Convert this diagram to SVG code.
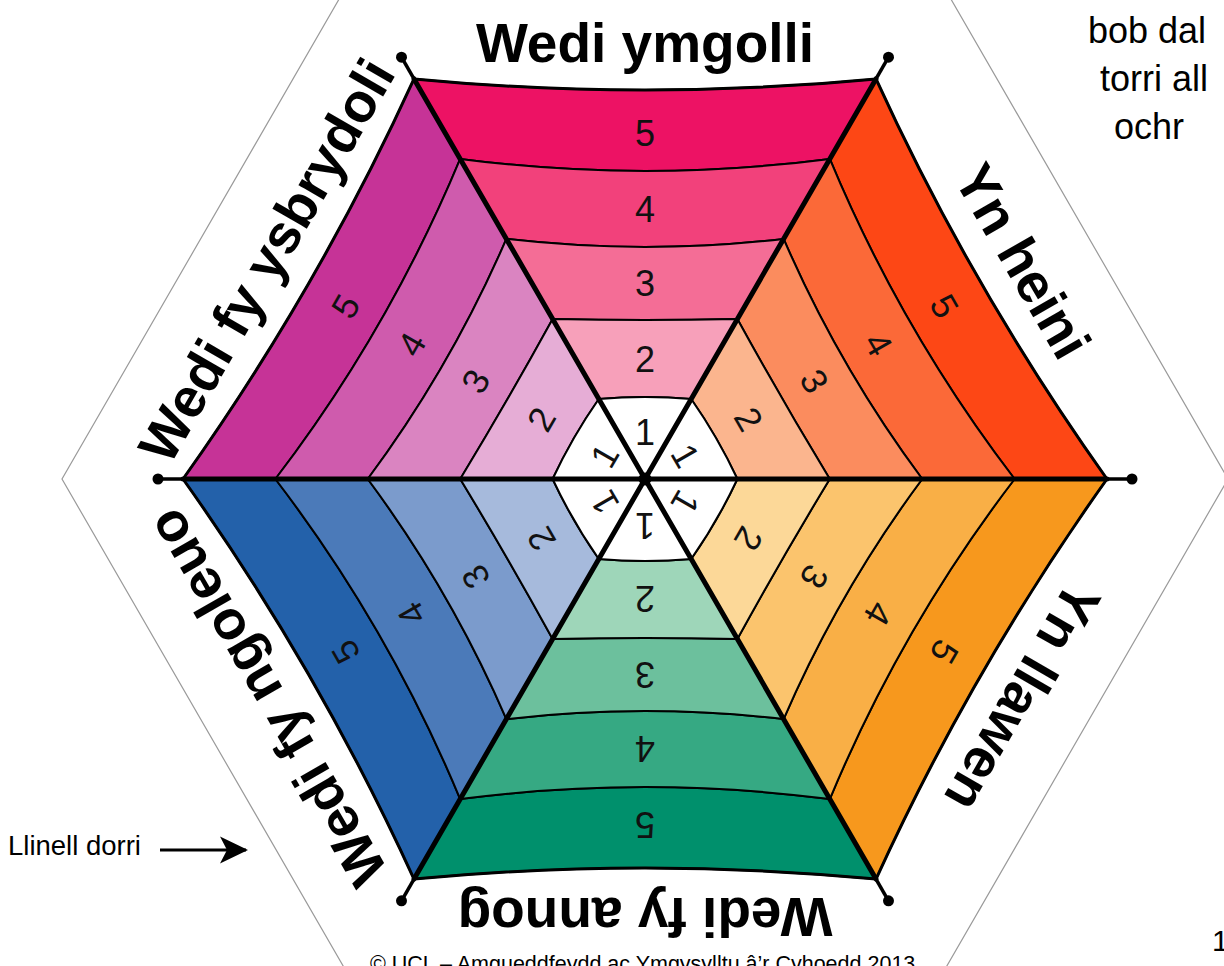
<svg xmlns="http://www.w3.org/2000/svg" xmlns:xlink="http://www.w3.org/1999/xlink" width="1224" height="966" viewBox="0 0 1224 966">
<style>
  .band { stroke: #000; stroke-width: 2; stroke-linejoin: round; }
  .edge { fill: none; stroke: #000; stroke-width: 3; }
  .num { font-family: "Liberation Sans", Arial, sans-serif; font-size: 36px; fill: #111; text-anchor: middle; }
  .lbl { font-family: "Liberation Sans", Arial, sans-serif; font-size: 55px; font-weight: bold; fill: #000; text-anchor: middle; }
  .note { font-family: "Liberation Sans", Arial, sans-serif; fill: #000; }
  .spoke { stroke: #000; stroke-width: 5; stroke-linecap: round; }
  .tip { stroke: #000; stroke-width: 3.5; }
  .dot { fill: #000; }
  .cut { fill: none; stroke: #9a9a9a; stroke-width: 1.2; }
</style>
<defs>
  <path id="b5" d="M-231,-400.1 Q0,-378 231,-400.1 L184.8,-320.1 Q0,-296 -184.8,-320.1 Z"/>
  <path id="b4" d="M-184.8,-320.1 Q0,-296 184.8,-320.1 L138.6,-240.1 Q0,-224 -138.6,-240.1 Z"/>
  <path id="b3" d="M-138.6,-240.1 Q0,-224 138.6,-240.1 L92.4,-160 Q0,-158 -92.4,-160 Z"/>
  <path id="b2" d="M-92.4,-160 Q0,-158 92.4,-160 L46.2,-80 Q0,-84 -46.2,-80 Z"/>
  <path id="b1" d="M-46.2,-80 Q0,-84 46.2,-80 L0,0 Z"/>
  <path id="rim" d="M-231,-400.1 Q0,-378 231,-400.1"/>
  <marker id="arr" viewBox="0 0 28 28" refX="26" refY="14" markerWidth="28" markerHeight="28" markerUnits="userSpaceOnUse" orient="auto">
    <path d="M0,0.5 L28,14 L0,27.5 L7,14 Z" fill="#000"/>
  </marker>
</defs>

<rect x="0" y="0" width="1224" height="966" fill="#fff"/>

<g id="cut-line">
  <polygon class="cut" points="1228,479 936.5,-25.9 353.5,-25.9 62,479 353.5,983.9 936.5,983.9"/>
</g>

<g id="seg-ymgolli" transform="translate(645 479) rotate(0)">
  <use href="#b5" class="band" fill="#ED1264"/>
  <use href="#b4" class="band" fill="#F2417B"/>
  <use href="#b3" class="band" fill="#F46D96"/>
  <use href="#b2" class="band" fill="#F7A0BA"/>
  <use href="#b1" class="band" fill="#FFFFFF"/>
  <use href="#rim" class="edge"/>
  <text class="num" x="0" y="-333">5</text>
  <text class="num" x="0" y="-257">4</text>
  <text class="num" x="0" y="-183">3</text>
  <text class="num" x="0" y="-107">2</text>
  <text class="num" x="0" y="-34">1</text>
  <text class="lbl" x="0" y="-417">Wedi ymgolli</text>
</g>

<g id="seg-heini" transform="translate(645 479) rotate(60)">
  <use href="#b5" class="band" fill="#FD4715"/>
  <use href="#b4" class="band" fill="#FB6938"/>
  <use href="#b3" class="band" fill="#FB8C5E"/>
  <use href="#b2" class="band" fill="#FBB58E"/>
  <use href="#b1" class="band" fill="#FFFFFF"/>
  <use href="#rim" class="edge"/>
  <text class="num" x="0" y="-333">5</text>
  <text class="num" x="0" y="-257">4</text>
  <text class="num" x="0" y="-183">3</text>
  <text class="num" x="0" y="-107">2</text>
  <text class="num" x="0" y="-34">1</text>
  <text class="lbl" x="0" y="-417">Yn heini</text>
</g>

<g id="seg-llawen" transform="translate(645 479) rotate(120)">
  <use href="#b5" class="band" fill="#F7981D"/>
  <use href="#b4" class="band" fill="#F9AF46"/>
  <use href="#b3" class="band" fill="#FBC46D"/>
  <use href="#b2" class="band" fill="#FCD898"/>
  <use href="#b1" class="band" fill="#FFFFFF"/>
  <use href="#rim" class="edge"/>
  <text class="num" x="0" y="-333">5</text>
  <text class="num" x="0" y="-257">4</text>
  <text class="num" x="0" y="-183">3</text>
  <text class="num" x="0" y="-107">2</text>
  <text class="num" x="0" y="-34">1</text>
  <text class="lbl" x="0" y="-417">Yn llawen</text>
</g>

<g id="seg-annog" transform="translate(645 479) rotate(180)">
  <use href="#b5" class="band" fill="#00906C"/>
  <use href="#b4" class="band" fill="#36A983"/>
  <use href="#b3" class="band" fill="#6CC09D"/>
  <use href="#b2" class="band" fill="#9ED6B9"/>
  <use href="#b1" class="band" fill="#FFFFFF"/>
  <use href="#rim" class="edge"/>
  <text class="num" x="0" y="-333">5</text>
  <text class="num" x="0" y="-257">4</text>
  <text class="num" x="0" y="-183">3</text>
  <text class="num" x="0" y="-107">2</text>
  <text class="num" x="0" y="-34">1</text>
  <text class="lbl" x="0" y="-419">Wedi fy annog</text>
</g>

<g id="seg-ngoleuo" transform="translate(645 479) rotate(240)">
  <use href="#b5" class="band" fill="#2361AA"/>
  <use href="#b4" class="band" fill="#4B7AB9"/>
  <use href="#b3" class="band" fill="#7B9BCC"/>
  <use href="#b2" class="band" fill="#A6BADC"/>
  <use href="#b1" class="band" fill="#FFFFFF"/>
  <use href="#rim" class="edge"/>
  <text class="num" x="0" y="-333">5</text>
  <text class="num" x="0" y="-257">4</text>
  <text class="num" x="0" y="-183">3</text>
  <text class="num" x="0" y="-107">2</text>
  <text class="num" x="0" y="-34">1</text>
  <text class="lbl" x="0" y="-418">Wedi fy ngoleuo</text>
</g>

<g id="seg-ysbrydoli" transform="translate(645 479) rotate(300)">
  <use href="#b5" class="band" fill="#C63397"/>
  <use href="#b4" class="band" fill="#CF5BAD"/>
  <use href="#b3" class="band" fill="#DA84C1"/>
  <use href="#b2" class="band" fill="#E6ADD6"/>
  <use href="#b1" class="band" fill="#FFFFFF"/>
  <use href="#rim" class="edge"/>
  <text class="num" x="0" y="-333">5</text>
  <text class="num" x="0" y="-257">4</text>
  <text class="num" x="0" y="-183">3</text>
  <text class="num" x="0" y="-107">2</text>
  <text class="num" x="0" y="-34">1</text>
  <text class="lbl" x="0" y="-418">Wedi fy ysbrydoli</text>
</g>

<g id="connectors">
  <line class="spoke" x1="645" y1="479" x2="1107" y2="479"/>
  <line class="spoke" x1="645" y1="479" x2="183" y2="479"/>
  <line class="spoke" x1="645" y1="479" x2="876" y2="78.9"/>
  <line class="spoke" x1="645" y1="479" x2="414" y2="78.9"/>
  <line class="spoke" x1="645" y1="479" x2="876" y2="879.1"/>
  <line class="spoke" x1="645" y1="479" x2="414" y2="879.1"/>
  <line class="tip" x1="1107" y1="479" x2="1132" y2="479"/>
  <line class="tip" x1="183" y1="479" x2="158" y2="479"/>
  <line class="tip" x1="876" y1="78.9" x2="888.5" y2="57.2"/>
  <line class="tip" x1="414" y1="78.9" x2="401.5" y2="57.2"/>
  <line class="tip" x1="876" y1="879.1" x2="888.5" y2="900.8"/>
  <line class="tip" x1="414" y1="879.1" x2="401.5" y2="900.8"/>
  <circle class="dot" cx="1132" cy="479" r="5.5"/>
  <circle class="dot" cx="158" cy="479" r="5.5"/>
  <circle class="dot" cx="888.5" cy="57.2" r="5.5"/>
  <circle class="dot" cx="401.5" cy="57.2" r="5.5"/>
  <circle class="dot" cx="888.5" cy="900.8" r="5.5"/>
  <circle class="dot" cx="401.5" cy="900.8" r="5.5"/>
  <circle class="dot" cx="645" cy="479" r="6.5"/>
  <line x1="160" y1="850" x2="246" y2="850" stroke="#000" stroke-width="3" marker-end="url(#arr)"/>
</g>

<g id="notes">
  <text class="note" x="8" y="855" font-size="27.5">Llinell dorri</text>
  <text class="note" x="1088" y="43" font-size="36">bob dal</text>
  <text class="note" x="1100" y="91" font-size="36">torri all</text>
  <text class="note" x="1114" y="139" font-size="36">ochr</text>
  <text class="note" x="1212" y="951" font-size="30">1</text>
  <text class="note" x="370" y="971" font-size="21.5">© UCL – Amgueddfeydd ac Ymgysylltu â’r Cyhoedd 2013</text>
</g>
</svg>
